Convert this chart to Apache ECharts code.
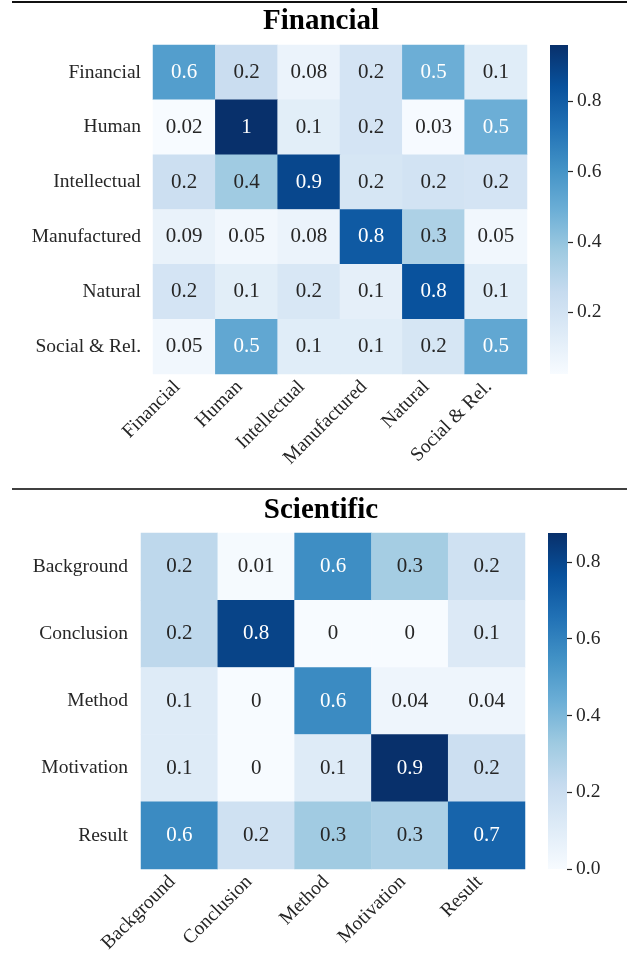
<!DOCTYPE html>
<html>
<head>
<meta charset="utf-8">
<script src="https://cdn.jsdelivr.net/npm/echarts@6/dist/echarts.min.js"></script>
<style>
  html, body { margin: 0; padding: 0; background: #fff; }
  #chart { width: 627px; height: 958px; }
</style>
</head>
<body>
<div id="chart"></div>
<script>
// Capital-type co-occurrence (rows x columns)
const finCategories = ['Financial', 'Human', 'Intellectual', 'Manufactured', 'Natural', 'Social & Rel.'];
const finValues = [
  [0.56, 0.24, 0.08, 0.19, 0.49, 0.13],
  [0.024, 0.96, 0.12, 0.19, 0.03, 0.49],
  [0.23, 0.37, 0.88, 0.18, 0.20, 0.19],
  [0.09, 0.05, 0.08, 0.81, 0.33, 0.05],
  [0.19, 0.12, 0.17, 0.11, 0.84, 0.13],
  [0.05, 0.52, 0.13, 0.13, 0.18, 0.52]
];
const finTicks = [0.2, 0.4, 0.6, 0.8];

// Scientific discourse-role co-occurrence
const sciCategories = ['Background', 'Conclusion', 'Method', 'Motivation', 'Result'];
const sciValues = [
  [0.24, 0.01, 0.56, 0.31, 0.18],
  [0.24, 0.81, 0, 0, 0.12],
  [0.11, 0, 0.57, 0.04, 0.04],
  [0.11, 0, 0.11, 0.875, 0.19],
  [0.57, 0.18, 0.32, 0.29, 0.70]
];
const sciTicks = [0.0, 0.2, 0.4, 0.6, 0.8];

const BLUES = ['#f7fbff', '#deebf7', '#c6dbef', '#9ecae1', '#6baed6', '#4292c6', '#2171b5', '#08519c', '#08306b'];
const FONT = 'Liberation Serif';
const TXT = '#262626';

function toCells(values) {
  const out = [];
  values.forEach((row, r) => row.forEach((v, c) => out.push([c, r, v])));
  return out;
}
function extent(values) {
  const flat = values.flat();
  return [Math.min(...flat), Math.max(...flat)];
}
// one significant digit, like "%.1g"
function sig1(v) { return String(Number(v.toPrecision(1))); }

const [finMin, finMax] = extent(finValues);
const [sciMin, sciMax] = extent(sciValues);

function cellLabel(lo, hi) {
  return {
    show: true,
    formatter: p => {
      const v = p.value[2];
      const t = (v - lo) / (hi - lo);
      return (t > 0.47 ? '{w|' : '{d|') + sig1(v) + '}';
    },
    rich: {
      w: { color: '#ffffff', fontSize: 21, fontFamily: FONT },
      d: { color: TXT, fontSize: 21, fontFamily: FONT }
    }
  };
}

function colorbarSeries(axisIdx, lo, hi) {
  const stops = BLUES.slice().reverse().map((c, i) => ({ offset: i / (BLUES.length - 1), color: c }));
  return {
    type: 'custom',
    xAxisIndex: axisIdx,
    yAxisIndex: axisIdx,
    silent: true,
    z: 1,
    data: [[0]],
    renderItem: (params, api) => {
      const a = api.coord([0, hi]);
      const b = api.coord([1, lo]);
      return {
        type: 'rect',
        shape: { x: a[0], y: a[1], width: b[0] - a[0], height: b[1] - a[1] },
        style: { fill: new echarts.graphic.LinearGradient(0, 0, 0, 1, stops) }
      };
    }
  };
}

function catX(idx, cats) {
  return {
    type: 'category', gridIndex: idx, data: cats,
    axisLine: { show: false }, axisTick: { show: false }, splitArea: { show: false },
    axisLabel: { rotate: 45, interval: 0, margin: 17, verticalAlign: 'bottom',
                 fontSize: 19.5, fontFamily: FONT, color: TXT }
  };
}
function catY(idx, cats, margin) {
  return {
    type: 'category', gridIndex: idx, data: cats, inverse: true,
    axisLine: { show: false }, axisTick: { show: false }, splitArea: { show: false },
    axisLabel: { interval: 0, margin: margin, fontSize: 19.5, fontFamily: FONT, color: TXT }
  };
}
function barX(idx) {
  return { type: 'value', gridIndex: idx, min: 0, max: 1, show: false };
}
function barY(idx, lo, hi, ticks) {
  return {
    type: 'value', gridIndex: idx, min: lo, max: hi, position: 'right',
    axisLine: { show: false, onZero: false }, splitLine: { show: false },
    axisTick: { show: true, length: 5, customValues: ticks, lineStyle: { color: TXT, width: 1.2 } },
    axisLabel: { customValues: ticks, margin: 9, formatter: v => v.toFixed(1), fontSize: 19.5, fontFamily: FONT, color: TXT }
  };
}

const chart = echarts.init(document.getElementById('chart'), null, { renderer: 'canvas' });
chart.setOption({
  animation: false,
  backgroundColor: '#ffffff',
  title: [
    { text: 'Financial', left: 321, top: 7, textAlign: 'center', padding: 0,
      textStyle: { fontFamily: FONT, fontWeight: 'bold', fontSize: 29, color: '#000' } },
    { text: 'Scientific', left: 321, top: 496, textAlign: 'center', padding: 0,
      textStyle: { fontFamily: FONT, fontWeight: 'bold', fontSize: 29, color: '#000' } }
  ],
  graphic: [
    { type: 'line', shape: { x1: 12, y1: 2, x2: 627, y2: 2 }, style: { stroke: '#111', lineWidth: 2 } },
    { type: 'line', shape: { x1: 12, y1: 489, x2: 627, y2: 489 }, style: { stroke: '#404040', lineWidth: 2 } }
  ],
  grid: [
    { left: 153, top: 45, width: 374, height: 329 },
    { left: 550, top: 45, width: 18, height: 329 },
    { left: 141, top: 533, width: 384, height: 336 },
    { left: 548, top: 533, width: 19, height: 336 }
  ],
  xAxis: [catX(0, finCategories), barX(1), catX(2, sciCategories), barX(3)],
  yAxis: [catY(0, finCategories, 12), barY(1, finMin, finMax, finTicks),
          catY(2, sciCategories, 13), barY(3, sciMin, sciMax, sciTicks)],
  visualMap: [
    { type: 'continuous', show: false, seriesIndex: 0, min: finMin, max: finMax, inRange: { color: BLUES } },
    { type: 'continuous', show: false, seriesIndex: 2, min: sciMin, max: sciMax, inRange: { color: BLUES } }
  ],
  series: [
    { type: 'heatmap', xAxisIndex: 0, yAxisIndex: 0, data: toCells(finValues),
      label: cellLabel(finMin, finMax), emphasis: { disabled: true } },
    colorbarSeries(1, finMin, finMax),
    { type: 'heatmap', xAxisIndex: 2, yAxisIndex: 2, data: toCells(sciValues),
      label: cellLabel(sciMin, sciMax), emphasis: { disabled: true } },
    colorbarSeries(3, sciMin, sciMax)
  ]
});
</script>
</body>
</html>
